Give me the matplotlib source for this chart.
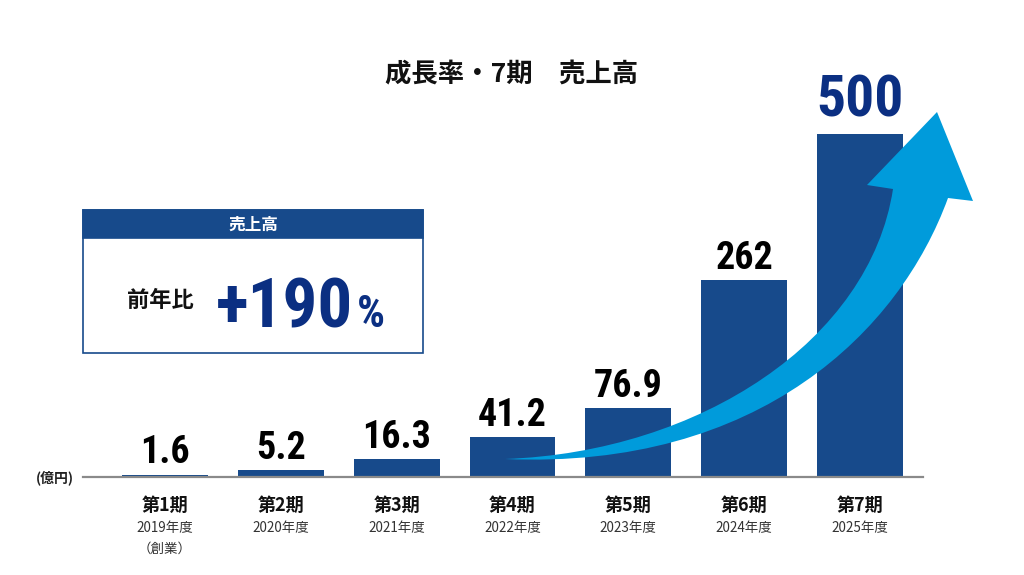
import os
import matplotlib
matplotlib.use('Agg')
import matplotlib.pyplot as plt
import matplotlib.font_manager as fm
from matplotlib.patches import Rectangle, PathPatch
from matplotlib.path import Path
from matplotlib.transforms import Affine2D
from matplotlib.textpath import TextPath
import numpy as np

# ---------------- data ----------------
periods = ['第1期', '第2期', '第3期', '第4期', '第5期', '第6期', '第7期']
years = ['2019年度', '2020年度', '2021年度', '2022年度', '2023年度', '2024年度', '2025年度']
notes = ['（創業）', '', '', '', '', '', '']
sales = [1.6, 5.2, 16.3, 41.2, 76.9, 262, 500]
value_labels = ['1.6', '5.2', '16.3', '41.2', '76.9', '262', '500']
title = '成長率・7期　売上高'
box_header = '売上高'
box_label = '前年比'
growth = '+190'
growth_unit = '%'
unit_label = '(億円)'

# ---------------- style ----------------
BAR = '#174a8b'
NAVY = '#0b2f82'
ARROW = '#009bdb'
CJK = ['Noto Sans CJK JP', 'DejaVu Sans']
plt.rcParams['font.family'] = CJK


def find_font(patterns):
    files = [f.fname for f in fm.fontManager.ttflist]
    for pat in patterns:
        for fn in files:
            b = os.path.basename(fn).lower().replace(' ', '').replace('_', '')
            if b.startswith(pat):
                return fn
    return None


COND = find_font(['robotocondensed-bold.', 'robotocondensed-bold', 'liberationsansnarrow-bold.',
                  'opensanscondensed-bold', 'dejavusanscondensed-bold.', 'robotocondensed-semibold'])


def numprop(size):
    if COND:
        return fm.FontProperties(fname=COND, size=size)
    return fm.FontProperties(family='DejaVu Sans', weight='bold', size=size)


def fit_size(s, w_px, h_px):
    """font size (pt) so that the ink of s fits w_px x h_px (dpi 100)."""
    ext = TextPath((0, 0), s, size=100, prop=numprop(100)).get_extents()
    em_px = min(h_px / (ext.height / 100), w_px / (ext.width / 100))
    return em_px * 72 / 100


W, H = 1024, 575
fig = plt.figure(figsize=(W / 100, H / 100), dpi=100)
fig.patch.set_facecolor('white')
pix = Affine2D().scale(1 / W, -1 / H).translate(0, 1) + fig.transFigure

# axes: baseline at y=477 px, x from 83 to 923 px
ax = fig.add_axes([83 / W, (H - 477) / H, 840 / W, 377 / H])
p = 0.86
ax.set_yscale('function', functions=(lambda v: np.sign(v) * np.abs(v) ** p,
                                     lambda v: np.sign(v) * np.abs(v) ** (1 / p)))
x = np.arange(len(sales))
ax.bar(x, sales, width=0.742, color=BAR, zorder=2)
ax.set_xlim(-0.708, 6.544)
ax.set_ylim(0, (377 / 343) ** (1 / p) * 500)
for s in ['top', 'left', 'right']:
    ax.spines[s].set_visible(False)
ax.spines['bottom'].set_color('#8a8a8a')
ax.spines['bottom'].set_linewidth(1.6)
ax.set_xticks([])
ax.set_yticks([])
ax.patch.set_alpha(0)

small_size = fit_size('16.3', 64, 29)
big_size = fit_size('500', 90, 42)

for i, (v, lab) in enumerate(zip(sales, value_labels)):
    last = i == len(sales) - 1
    ax.annotate(lab, xy=(i, v), xytext=(0, 12.5 if last else 8), textcoords='offset points',
                ha='center', va='baseline',
                fontproperties=numprop(big_size if last else small_size),
                color=NAVY if last else 'black')
    ax.annotate(periods[i], xy=(i, 0), xytext=(0, -20.5), textcoords='offset points',
                ha='center', va='center', fontsize=13, fontweight='bold', color='#111111',
                annotation_clip=False)
    ax.annotate(years[i], xy=(i, 0), xytext=(0, -37), textcoords='offset points',
                ha='center', va='center', fontsize=9.7, color='#333333', annotation_clip=False)
    if notes[i]:
        ax.annotate(notes[i], xy=(i, 0), xytext=(0, -51.5), textcoords='offset points',
                    ha='center', va='center', fontsize=9.7, color='#333333',
                    annotation_clip=False)

# unit label
fig.text(55, 478, unit_label, transform=pix, ha='center', va='center',
         fontsize=10, fontweight='bold', color='#222222')

# title
fig.text(512, 75, title, transform=pix, ha='center', va='center',
         fontsize=19, fontweight='bold', color='#111111')

# growth box
fig.patches.append(Rectangle((83, 210), 340, 143, transform=pix, facecolor='white',
                             edgecolor=BAR, linewidth=1.2, zorder=1))
fig.patches.append(Rectangle((83, 210), 340, 28, transform=pix, facecolor=BAR,
                             edgecolor=BAR, linewidth=1.2, zorder=1))
fig.text(253, 224.5, box_header, transform=pix, ha='center', va='center',
         fontsize=12, fontweight='bold', color='white')
fig.text(160, 300, box_label, transform=pix, ha='center', va='center',
         fontsize=16, fontweight='bold', color='#111111')
g_size = fit_size('190', 96, 58)
fig.text(353, 328, growth, transform=pix, ha='right', va='baseline',
         fontproperties=numprop(g_size), color=NAVY)
fig.text(357, 327, growth_unit, transform=pix, ha='left', va='baseline',
         fontproperties=numprop(fit_size('%', 29, 32)), color=NAVY)

# decorative growth arrow (pixel coordinates)
verts = [(505, 459), (700, 452), (870, 340), (893, 189),
         (867, 185), (937, 112), (973, 201), (948, 198),
         (900, 330), (760, 470), (505, 459), (505, 459)]
codes = [Path.MOVETO, Path.CURVE4, Path.CURVE4, Path.CURVE4,
         Path.LINETO, Path.LINETO, Path.LINETO, Path.LINETO,
         Path.CURVE4, Path.CURVE4, Path.CURVE4, Path.CLOSEPOLY]
fig.patches.append(PathPatch(Path(verts, codes), transform=pix, facecolor=ARROW,
                             edgecolor='none', zorder=2))

fig.savefig('out.png', dpi=100, facecolor='white')
